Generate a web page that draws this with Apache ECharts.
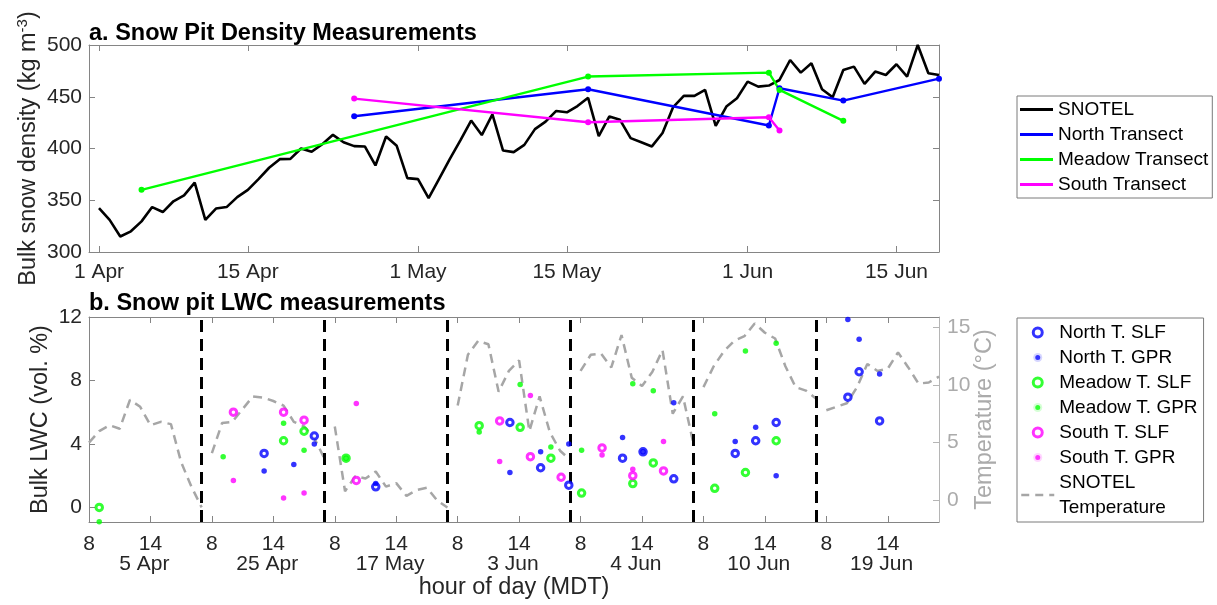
<!DOCTYPE html>
<html>
<head>
<meta charset="utf-8">
<script src="https://cdn.jsdelivr.net/npm/echarts@6/dist/echarts.min.js"></script>
<style>
  html, body { margin: 0; padding: 0; background: #ffffff; }
  #chart { width: 1217px; height: 605px; }
</style>
</head>
<body>
<div id="chart"></div>
<script>
// ---------- Panel a: bulk snow density (x = days after 1 Apr) ----------
const densityTickDays = [0, 14, 30, 44, 61, 75];
const densityTickLabels = ['1 Apr', '15 Apr', '1 May', '15 May', '1 Jun', '15 Jun'];

// SNOTEL daily bulk density, one value per day starting 1 Apr
const snotelDensity = [
  342.5, 331, 315, 320, 329.6, 343.4, 338.6, 349, 354.7, 367,
  331, 342, 343.4, 353, 360, 370.4, 381.4, 389.7, 390, 400,
  396.8, 404.2, 413.2, 406, 402.3, 402, 383.6, 411.6, 402.6, 371.4,
  370.4, 352.1, 371, 390, 408, 427, 413, 433, 398, 396.5,
  403.5, 418.7, 426, 436.3, 435, 441, 449, 412, 431, 427.7,
  410, 406, 402, 415, 440, 450.8, 450.8, 456.6, 421.9, 440.5,
  448.6, 464.6, 459.8, 460.8, 466.2, 485.5, 473.3, 482.3, 457.2, 449.5,
  475.9, 479.1, 462.4, 474.3, 471, 481.4, 469.5, 500, 472.7, 471
];

// Snow pit transects: [day after 1 Apr, density]
const northTransect = [[24, 431.2], [46, 457.2], [63, 422.2], [64, 458.2], [70, 446.3], [79, 467.5]];
const meadowTransect = [[4, 360.1], [46, 469.5], [63, 473.3], [64, 456.6], [70, 426.7]];
const southTransect = [[24, 448.2], [46, 425.4], [63, 430.2], [64, 417.4]];

// ---------- Panel b: LWC by pit day and hour ----------
const pitDays = ['5 Apr', '25 Apr', '17 May', '3 Jun', '4 Jun', '10 Jun', '19 Jun'];
const hourTickLabels = [8, 14];

// SNOTEL air temperature (°C), hourly 8:00..19:00 for each pit day
const snotelTemp = [
  [5.0, 6.0, 6.5, 6.2, 8.7, 8.1, 6.5, 6.8, 6.6, 3.3, 1.2, -0.6],
  [4.1, 6.7, 6.8, 7.9, 9.0, 8.9, 8.6, 8.2, 6.8, 6.4, 5.4, 3.6],
  [6.4, 0.8, 2.1, 1.9, 2.5, 1.2, 1.5, 0.4, 0.9, 1.1, 0.0, -0.6],
  [8.2, 12.6, 13.8, 13.5, 9.4, 11.2, 12.1, 6.0, 9.0, 5.9, 4.3, 3.5],
  [11.2, 12.6, 12.7, 11.5, 14.3, 10.6, 9.9, 11.1, 13.0, 7.5, 9.0, 5.0],
  [9.8, 11.6, 12.9, 13.8, 14.2, 15.3, 14.5, 14.0, 11.6, 9.8, 9.5, 8.8],
  [7.8, 8.1, 8.4, 9.8, 11.8, 11.2, 11.4, 12.8, 11.5, 10.1, 10.2, 10.7]
];

// Bulk LWC (vol. %): [pit day index, hour of day, value]
const northSLF = [[1, 13.1, 3.4], [1, 18, 4.5], [2, 12, 1.3], [3, 13.1, 5.35], [3, 16.1, 2.5], [3, 18.85, 1.4],
  [4, 12.1, 3.1], [4, 14.1, 3.5], [4, 17.1, 1.8], [5, 11.1, 3.4], [5, 13.1, 4.2], [5, 15.1, 5.35],
  [6, 10.1, 6.95], [6, 11.2, 8.55], [6, 13.2, 5.45]];
const northGPR = [[1, 13.1, 2.3], [1, 16, 2.7], [1, 18, 4.0], [2, 12, 1.5], [3, 13.1, 2.2], [3, 16.1, 3.5],
  [3, 18.85, 4.0], [4, 12.1, 4.4], [4, 14.1, 3.5], [4, 17.1, 6.6], [5, 11.1, 4.15], [5, 13.1, 5.05],
  [5, 15.1, 2.0], [6, 10.1, 11.85], [6, 11.2, 10.6], [6, 13.2, 8.4]];
const meadowSLF = [[0, 9, 0.0], [1, 15, 4.2], [1, 17, 4.8], [2, 9.1, 3.1], [3, 10.1, 5.15], [3, 14.1, 5.05],
  [3, 17.1, 3.1], [4, 8.1, 0.9], [4, 13.1, 1.5], [4, 15.1, 2.8], [5, 9.1, 1.2], [5, 12.1, 2.2], [5, 15.1, 4.2]];
const meadowGPR = [[0, 9, -0.9], [1, 9.1, 3.2], [1, 15, 5.3], [1, 17, 3.6], [2, 9.1, 3.1], [3, 10.1, 4.75],
  [3, 14.1, 7.75], [3, 17.1, 3.8], [4, 8.1, 3.6], [4, 13.1, 7.8], [4, 15.1, 7.35], [5, 9.1, 5.9],
  [5, 12.1, 9.85], [5, 15.1, 10.35]];
const southSLF = [[1, 10.1, 6.0], [1, 15, 6.0], [1, 17, 5.5], [2, 10.1, 1.7], [3, 12.1, 5.45], [3, 15.1, 3.2],
  [3, 18.1, 1.9], [4, 10.1, 3.75], [4, 13.1, 2.0], [4, 16.1, 2.3]];
const southGPR = [[1, 10.1, 1.7], [1, 15, 0.6], [1, 17, 0.9], [2, 10.1, 6.55], [3, 12.1, 2.9], [3, 15.1, 7.05],
  [4, 10.1, 3.3], [4, 13.1, 2.4], [4, 16.1, 4.15]];

// ---------- helpers ----------
const FONT = "'Liberation Sans', Arial, Helvetica, sans-serif";
const TXT = '#262626';
const BOX = '#858585';
const BLUE = '#0000ff', GREEN = '#00ff00', MAGENTA = '#ff00ff', TEMP_GREY = '#a6a6a6';
const TICK_FS = 21, LABEL_FS = 23.5, LEGEND_FS = 19;

// each pit day occupies a 12-hour slot (07:00-19:00) on a shared axis
const HOURS_PER_DAY = 12, SLOT_START = 7;
const slotPos = (day, hour) => day * HOURS_PER_DAY + hour - SLOT_START;
const toPoint = r => [slotPos(r[0], r[1]), r[2]];

const hourTickPos = [];
pitDays.forEach((_, d) => hourTickLabels.forEach(h => hourTickPos.push(slotPos(d, h))));
const dayLabelPos = pitDays.map((_, d) => slotPos(d, 13.4));
const separators = pitDays.slice(1).map((_, i) => ({ xAxis: (i + 1) * HOURS_PER_DAY }));

const tempData = [];
snotelTemp.forEach((vals, d) => {
  vals.forEach((t, i) => tempData.push([slotPos(d, 8 + i), t]));
  tempData.push([slotPos(d, 19.5), '-']);
});

const tickInside = (vals, color) => ({ show: true, inside: true, length: 6, customValues: vals, lineStyle: { color: color || BOX } });
const boxLine = color => ({ show: true, onZero: false, lineStyle: { color: color || BOX, width: 1 } });

const option = {
  animation: false,
  backgroundColor: '#ffffff',
  textStyle: { fontFamily: FONT },
  title: [
    { text: 'a. Snow Pit Density Measurements', left: 89, top: 22, padding: 0,
      textStyle: { fontFamily: FONT, fontSize: LABEL_FS, fontWeight: 'bold', color: '#000' } },
    { text: 'b. Snow pit LWC measurements', left: 89, top: 292, padding: 0,
      textStyle: { fontFamily: FONT, fontSize: LABEL_FS, fontWeight: 'bold', color: '#000' } }
  ],
  grid: [
    { left: 89, top: 45, width: 850, height: 207 },
    { left: 89, top: 317, width: 850, height: 205 }
  ],
  legend: [
    {
      orient: 'vertical', left: 1017, top: 96, padding: [1, 4, 1, 3],
      itemWidth: 33, itemHeight: 3, itemGap: 0, icon: 'rect',
      borderColor: '#7a7a7a', borderWidth: 1, selectedMode: false,
      textStyle: { fontFamily: FONT, fontSize: LEGEND_FS, color: '#000', lineHeight: 25 },
      data: ['SNOTEL', 'North Transect', 'Meadow Transect', 'South Transect']
    },
    {
      orient: 'vertical', left: 1017, top: 318, padding: [2, 6, 2, 3],
      itemWidth: 33, itemHeight: 9, itemGap: 0,
      borderColor: '#7a7a7a', borderWidth: 1, selectedMode: false,
      textStyle: { fontFamily: FONT, fontSize: LEGEND_FS, color: '#000', lineHeight: 25 },
      formatter: n => n === 'SNOTEL Temperature' ? 'SNOTEL\nTemperature' : n,
      data: [
        { name: 'North T. SLF', icon: 'circle', itemStyle: { color: '#fff', borderColor: BLUE, borderWidth: 3 } },
        { name: 'North T. GPR', icon: 'circle', itemStyle: { color: BLUE, borderColor: '#fff', borderWidth: 4 } },
        { name: 'Meadow T. SLF', icon: 'circle', itemStyle: { color: '#fff', borderColor: GREEN, borderWidth: 3 } },
        { name: 'Meadow T. GPR', icon: 'circle', itemStyle: { color: GREEN, borderColor: '#fff', borderWidth: 4 } },
        { name: 'South T. SLF', icon: 'circle', itemStyle: { color: '#fff', borderColor: MAGENTA, borderWidth: 3 } },
        { name: 'South T. GPR', icon: 'circle', itemStyle: { color: MAGENTA, borderColor: '#fff', borderWidth: 4 } },
        { name: 'SNOTEL Temperature', itemStyle: { opacity: 0 },
          lineStyle: { color: TEMP_GREY, width: 2.5, type: [8, 6] } }
      ]
    }
  ],
  xAxis: [
    { // a: dates
      type: 'value', gridIndex: 0, position: 'bottom', min: -0.94, max: 79,
      axisLine: boxLine(), splitLine: { show: false },
      axisTick: tickInside(densityTickDays),
      axisLabel: { customValues: densityTickDays, margin: 10, fontSize: TICK_FS, color: TXT, fontFamily: FONT,
        formatter: v => densityTickLabels[densityTickDays.indexOf(v)] }
    },
    { // a: top edge
      type: 'value', gridIndex: 0, position: 'top', min: -0.94, max: 79,
      axisLine: boxLine(), splitLine: { show: false },
      axisTick: tickInside(densityTickDays), axisLabel: { show: false }
    },
    { // b: hour of day
      type: 'value', gridIndex: 1, position: 'bottom', min: 1, max: 84,
      axisLine: boxLine(), splitLine: { show: false },
      axisTick: tickInside(hourTickPos),
      axisLabel: { customValues: hourTickPos, margin: 12, fontSize: TICK_FS, color: TXT, fontFamily: FONT,
        formatter: v => String(((v - 1) % HOURS_PER_DAY) + 8) }
    },
    { // b: top edge
      type: 'value', gridIndex: 1, position: 'top', min: 1, max: 84,
      axisLine: boxLine(), splitLine: { show: false },
      axisTick: tickInside(hourTickPos), axisLabel: { show: false }
    },
    { // b: pit day names + axis title
      type: 'value', gridIndex: 1, position: 'bottom', min: 1, max: 84,
      axisLine: { show: false, onZero: false }, axisTick: { show: false }, splitLine: { show: false },
      axisLabel: { customValues: dayLabelPos, margin: 32, fontSize: TICK_FS, color: TXT, fontFamily: FONT,
        formatter: v => pitDays[Math.round((v - dayLabelPos[0]) / HOURS_PER_DAY)] },
      name: 'hour of day (MDT)', nameLocation: 'middle', nameGap: 54, nameMoveOverlap: false,
      nameTextStyle: { fontSize: LABEL_FS, color: TXT, fontFamily: FONT }
    }
  ],
  yAxis: [
    { // a: density
      type: 'value', gridIndex: 0, position: 'left', min: 300, max: 500, interval: 50,
      axisLine: boxLine(), splitLine: { show: false },
      axisTick: { show: true, inside: true, length: 6, lineStyle: { color: BOX } },
      axisLabel: { margin: 7, fontSize: TICK_FS, color: TXT, fontFamily: FONT },
      name: '{a|Bulk snow density (kg m}{s|-3}{a|)}', nameLocation: 'middle', nameGap: 46, nameRotate: 90,
      nameMoveOverlap: false,
      nameTextStyle: { color: TXT, fontFamily: FONT, rich: {
        a: { fontSize: LABEL_FS, lineHeight: 28, color: TXT, fontFamily: FONT },
        s: { fontSize: 15, lineHeight: 15, verticalAlign: 'top', color: TXT, fontFamily: FONT }
      } }
    },
    { // a: right edge
      type: 'value', gridIndex: 0, position: 'right', min: 300, max: 500, interval: 50,
      axisLine: boxLine(), splitLine: { show: false },
      axisTick: { show: true, inside: true, length: 6, lineStyle: { color: BOX } },
      axisLabel: { show: false }
    },
    { // b: LWC
      type: 'value', gridIndex: 1, position: 'left', min: -0.92, max: 12,
      axisLine: boxLine(), splitLine: { show: false },
      axisTick: tickInside([0, 4, 8, 12]),
      axisLabel: { customValues: [0, 4, 8, 12], margin: 7, fontSize: TICK_FS, color: TXT, fontFamily: FONT },
      name: 'Bulk LWC (vol. %)', nameLocation: 'middle', nameGap: 36, nameRotate: 90, nameMoveOverlap: false,
      nameTextStyle: { fontSize: LABEL_FS, color: TXT, fontFamily: FONT }
    },
    { // b: temperature
      type: 'value', gridIndex: 1, position: 'right', min: -1.86, max: 15.86,
      axisLine: boxLine('#b5b5b5'), splitLine: { show: false },
      axisTick: tickInside([0, 5, 10, 15], '#b5b5b5'),
      axisLabel: { customValues: [0, 5, 10, 15], margin: 8, fontSize: TICK_FS, color: '#ababab', fontFamily: FONT },
      name: 'Temperature (°C)', nameLocation: 'middle', nameGap: 34, nameRotate: 90, nameMoveOverlap: false,
      nameTextStyle: { fontSize: LABEL_FS, color: '#ababab', fontFamily: FONT }
    }
  ],
  series: [
    { name: 'SNOTEL', type: 'line', xAxisIndex: 0, yAxisIndex: 0, symbol: 'none',
      data: snotelDensity.map((v, i) => [i, v]), lineStyle: { color: '#000', width: 2.6 }, itemStyle: { color: '#000' } },
    { name: 'North Transect', type: 'line', xAxisIndex: 0, yAxisIndex: 0, symbol: 'circle', symbolSize: 6,
      data: northTransect, lineStyle: { color: BLUE, width: 2.4 }, itemStyle: { color: BLUE } },
    { name: 'Meadow Transect', type: 'line', xAxisIndex: 0, yAxisIndex: 0, symbol: 'circle', symbolSize: 6,
      data: meadowTransect, lineStyle: { color: GREEN, width: 2.4 }, itemStyle: { color: GREEN } },
    { name: 'South Transect', type: 'line', xAxisIndex: 0, yAxisIndex: 0, symbol: 'circle', symbolSize: 6,
      data: southTransect, lineStyle: { color: MAGENTA, width: 2.4 }, itemStyle: { color: MAGENTA } },

    { name: 'SNOTEL Temperature', type: 'line', xAxisIndex: 2, yAxisIndex: 3, symbol: 'none',
      connectNulls: false, data: tempData, z: 1,
      lineStyle: { color: TEMP_GREY, width: 2.5, type: [9, 6] }, itemStyle: { color: TEMP_GREY },
      markLine: { silent: true, symbol: 'none', label: { show: false }, z: 3,
        lineStyle: { color: '#000', width: 3, type: [12, 7] }, data: separators } },

    { name: 'North T. SLF', type: 'scatter', xAxisIndex: 2, yAxisIndex: 2, symbol: 'circle', symbolSize: 6.5, z: 5,
      data: northSLF.map(toPoint), itemStyle: { color: '#fff', borderColor: BLUE, borderWidth: 3 } },
    { name: 'North T. GPR', type: 'scatter', xAxisIndex: 2, yAxisIndex: 2, symbol: 'circle', symbolSize: 5.5, z: 5,
      data: northGPR.map(toPoint), itemStyle: { color: BLUE } },
    { name: 'Meadow T. SLF', type: 'scatter', xAxisIndex: 2, yAxisIndex: 2, symbol: 'circle', symbolSize: 6.5, z: 5,
      data: meadowSLF.map(toPoint), itemStyle: { color: '#fff', borderColor: GREEN, borderWidth: 3 } },
    { name: 'Meadow T. GPR', type: 'scatter', xAxisIndex: 2, yAxisIndex: 2, symbol: 'circle', symbolSize: 5.5, z: 5,
      data: meadowGPR.map(toPoint), itemStyle: { color: GREEN } },
    { name: 'South T. SLF', type: 'scatter', xAxisIndex: 2, yAxisIndex: 2, symbol: 'circle', symbolSize: 6.5, z: 5,
      data: southSLF.map(toPoint), itemStyle: { color: '#fff', borderColor: MAGENTA, borderWidth: 3 } },
    { name: 'South T. GPR', type: 'scatter', xAxisIndex: 2, yAxisIndex: 2, symbol: 'circle', symbolSize: 5.5, z: 5,
      data: southGPR.map(toPoint), itemStyle: { color: MAGENTA } }
  ]
};

const chart = echarts.init(document.getElementById('chart'), null, { renderer: 'canvas' });
chart.setOption(option);
</script>
</body>
</html>
